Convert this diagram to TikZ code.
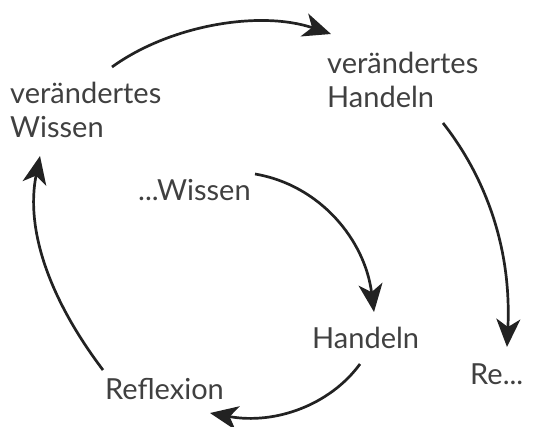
\documentclass[tikz,border=0pt]{standalone}
\usepackage{fontspec}
\setmainfont{Lato}
\usetikzlibrary{arrows.meta}
\definecolor{txt}{HTML}{404040}
\definecolor{ln}{HTML}{222222}
\tikzset{
  lbl/.style={inner sep=0pt, anchor=base west, align=left, text=txt, font=\fontsize{29}{34}\selectfont},
  flow/.style={draw=ln, line width=2.7pt, -{Stealth[length=28pt,width=24pt,inset=8pt]}}
}
\begin{document}
\begin{tikzpicture}[x=1pt,y=-1pt]
\useasboundingbox (0,0) rectangle (535,426);
\node[lbl] (vW) at (10,137) {verändertes\\Wissen};
\node[lbl] (vH) at (327,107) {verändertes\\Handeln};
\node[lbl] (W) at (138,200) {...Wissen};
\node[lbl] (H) at (312,348) {Handeln};
\node[lbl] (R) at (105,399) {Reflexion};
\node[lbl] (Re) at (470,384) {Re...};
\coordinate (a1) at (112,67);  \coordinate (b1) at (331,34);
\coordinate (a2) at (443,123); \coordinate (b2) at (507,347);
\coordinate (a3) at (255,174); \coordinate (b3) at (374,312);
\coordinate (a4) at (360,364); \coordinate (b4) at (210,413);
\coordinate (a5) at (103,370); \coordinate (b5) at (40,156);
\draw[flow] (a1) .. controls (170,25) and (260,10) .. (b1);
\draw[flow] (a2) .. controls (480,170) and (512,240) .. (b2);
\draw[flow] (a3) .. controls (320,185) and (365,240) .. (b3);
\draw[flow] (a4) .. controls (330,405) and (275,425) .. (b4);
\draw[flow] (a5) .. controls (50,300) and (25,230) .. (b5);
\end{tikzpicture}
\end{document}
